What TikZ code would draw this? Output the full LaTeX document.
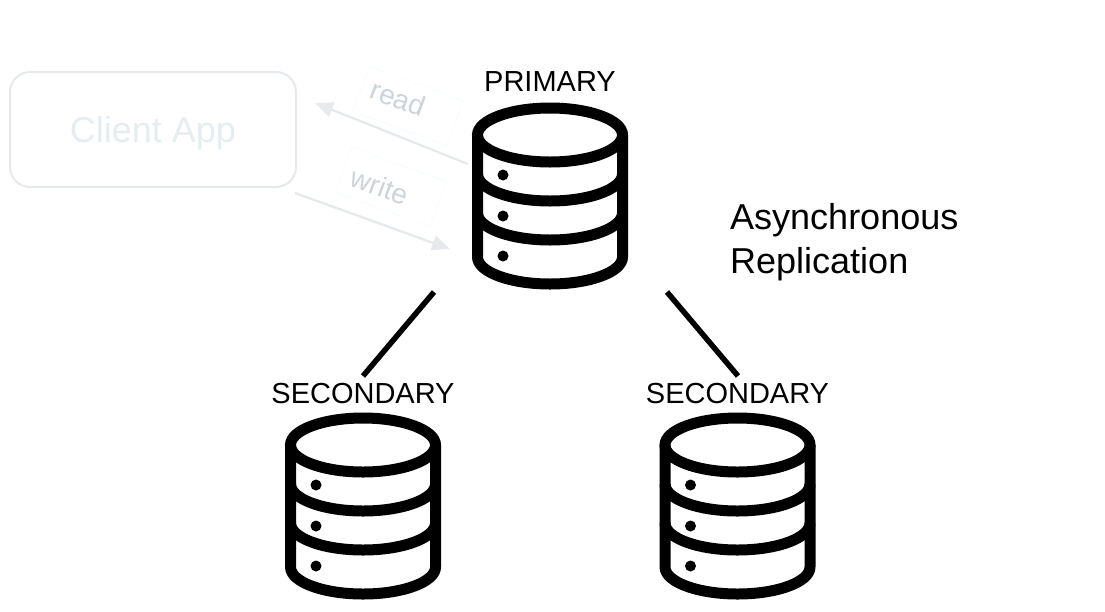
\documentclass[tikz,border=0pt]{standalone}
\usepackage{fontspec}
\setmainfont{Liberation Sans}
\usetikzlibrary{arrows.meta}
\definecolor{ghostline}{HTML}{E7EAED}
\definecolor{ghosttext}{HTML}{E6EDF1}
\definecolor{ghostlabel}{HTML}{CCD4D9}
\definecolor{ghostframe}{HTML}{F6FCFC}
\begin{document}
\begin{tikzpicture}
[x=1pt,y=-1pt,
  dbdecorate/.style={line width=11pt,black},%
  linkdecorate/.style={line width=5.5pt,black},%
  rolelabel/.style={font=\fontsize{29}{29}\selectfont,inner sep=0pt},%
  ghostarrow/.style={ghostline,line width=2.4pt,-{Triangle[length=18pt,width=15pt]}},%
  ghostbox/.style={draw=ghostframe,line width=0.8pt,minimum width=100pt,minimum height=48pt,inner sep=0pt},%
  ghosttag/.style={ghostlabel,font=\fontsize{28}{28}\selectfont,inner sep=0pt},%
  dbicon/.pic={
    \draw[dbdecorate] (0,32) ellipse [x radius=72.5,y radius=27];
    \draw[dbdecorate,line join=round] (-72.5,32) -- (-72.5,154)
      arc [start angle=180,end angle=0,x radius=72.5,y radius=27] -- (72.5,32);
    \foreach \bandy in {71,110} {
      \draw[dbdecorate] (-72.5,\bandy) arc [start angle=180,end angle=0,x radius=72.5,y radius=27];
    }
    \foreach \doty in {72,113,153} {
      \fill[black] (-47,\doty) circle [radius=5.5];
    }
  }]
\useasboundingbox (0,0) rectangle (1105,611);
%% database icons and their labels
\foreach \dbname/\x/\y/\role/\labely in {primary/550/103/PRIMARY/82,
  secondaryl/363/413/SECONDARY/394, secondaryr/737.5/413/SECONDARY/394} {
  \pic (\dbname) at (\x,\y) {dbicon};
  \node (\dbname label) at (\x,\labely) [rolelabel] {\role};
}
\node (replication) at (730,242) [anchor=west,align=left,inner sep=0pt,
  font=\fontsize{36}{44}\selectfont] {Asynchronous\\Replication};
%% faded client side
\node (client) at (153,129.5) [draw=ghostline,line width=2pt,rounded corners=20pt,
  minimum width=286pt,minimum height=115pt,inner sep=0pt,text=ghosttext,
  text height=34pt,text depth=8pt,font=\fontsize{36}{36}\selectfont] {Client App};
\node (readbox) at (408,106) [ghostbox,rotate=-20] {};
\node (writebox) at (391,187) [ghostbox,rotate=-20] {};
\node (readtag) at (398,98) [ghosttag,rotate=-20] {read};
\node (writetag) at (380,186) [ghosttag,rotate=-20] {write};
\coordinate (readstart) at (468,164);
\coordinate (readend) at (315,103);
\coordinate (writestart) at (295,193);
\coordinate (writeend) at (450,249);
\draw[ghostarrow] (readstart) -- (readend);
\draw[ghostarrow] (writestart) -- (writeend);
%% replication links
\coordinate (linkla) at (434,292);
\coordinate (linklb) at (363,376);
\coordinate (linkra) at (667,292);
\coordinate (linkrb) at (738,376);
\draw[linkdecorate] (linkla) -- (linklb);
\draw[linkdecorate] (linkra) -- (linkrb);
\end{tikzpicture}
\end{document}
